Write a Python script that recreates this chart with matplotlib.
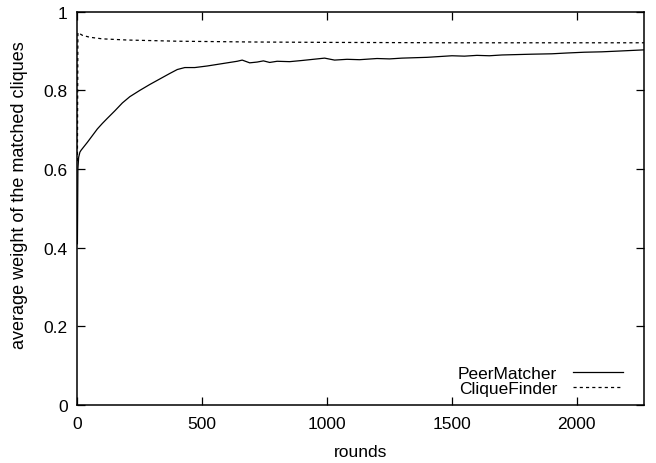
import matplotlib
matplotlib.use("Agg")
import matplotlib.pyplot as plt

plt.rcParams['font.family'] = ['Liberation Sans', 'DejaVu Sans']
plt.rcParams['font.size'] = 12.5

# PeerMatcher curve
pm_rounds = [0, 2, 5, 10, 15, 20, 40, 60, 80, 100, 120, 150, 180, 210, 250, 290,
             330, 370, 400, 430, 470, 520, 560, 600, 640, 660, 690, 720, 745, 770,
             800, 850, 900, 960, 990, 1030, 1080, 1130, 1200, 1250, 1300, 1350,
             1400, 1450, 1500, 1550, 1600, 1650, 1700, 1760, 1820, 1900, 1960,
             2030, 2100, 2170, 2270]
pm_weight = [0.41, 0.60, 0.63, 0.643, 0.648, 0.652, 0.668, 0.685, 0.702, 0.716,
             0.729, 0.748, 0.768, 0.784, 0.800, 0.815, 0.829, 0.843, 0.853, 0.858,
             0.858, 0.862, 0.866, 0.870, 0.874, 0.877, 0.870, 0.872, 0.875, 0.871,
             0.874, 0.873, 0.876, 0.880, 0.882, 0.877, 0.879, 0.878, 0.881, 0.880,
             0.882, 0.883, 0.884, 0.886, 0.888, 0.887, 0.889, 0.888, 0.890, 0.891,
             0.892, 0.893, 0.895, 0.897, 0.898, 0.900, 0.903]

# CliqueFinder curve
cf_rounds = [0, 2, 20, 50, 100, 200, 400, 700, 1000, 1500, 2270]
cf_weight = [0.62, 0.947, 0.940, 0.935, 0.931, 0.928, 0.925, 0.923, 0.922, 0.921, 0.921]

xticks = [0, 500, 1000, 1500, 2000]
yticks = [0, 0.2, 0.4, 0.6, 0.8, 1]

fig = plt.figure(figsize=(6.56, 4.64), dpi=100)
ax = fig.add_axes([0.118, 0.125, 0.864, 0.8476])

ax.plot(pm_rounds, pm_weight, color='black', lw=0.9, label='PeerMatcher')
ax.plot(cf_rounds, cf_weight, color='black', lw=0.9, dashes=(2.5, 2.5),
        label='CliqueFinder')

ax.set_xlim(0, 2270)
ax.set_ylim(0, 1)
ax.set_xticks(xticks)
ax.set_yticks(yticks)
ax.set_yticklabels(['%g' % v for v in yticks])
ax.tick_params(direction='in', length=6, width=0.9, top=True, right=True)
ax.tick_params(axis='x', pad=8)
ax.tick_params(axis='y', pad=7)
for s in ax.spines.values():
    s.set_linewidth(1.1)

ax.set_xlabel('rounds', labelpad=9)
ax.set_ylabel('average weight of the matched cliques', fontsize=13)
ax.yaxis.set_label_coords(-0.088, 0.535)

ax.legend(loc='lower right', bbox_to_anchor=(0.963, 0.022), frameon=False,
          markerfirst=False, handlelength=2.9, handletextpad=0.9,
          labelspacing=0.0, borderpad=0, borderaxespad=0)

fig.savefig('out.png', dpi=100)
